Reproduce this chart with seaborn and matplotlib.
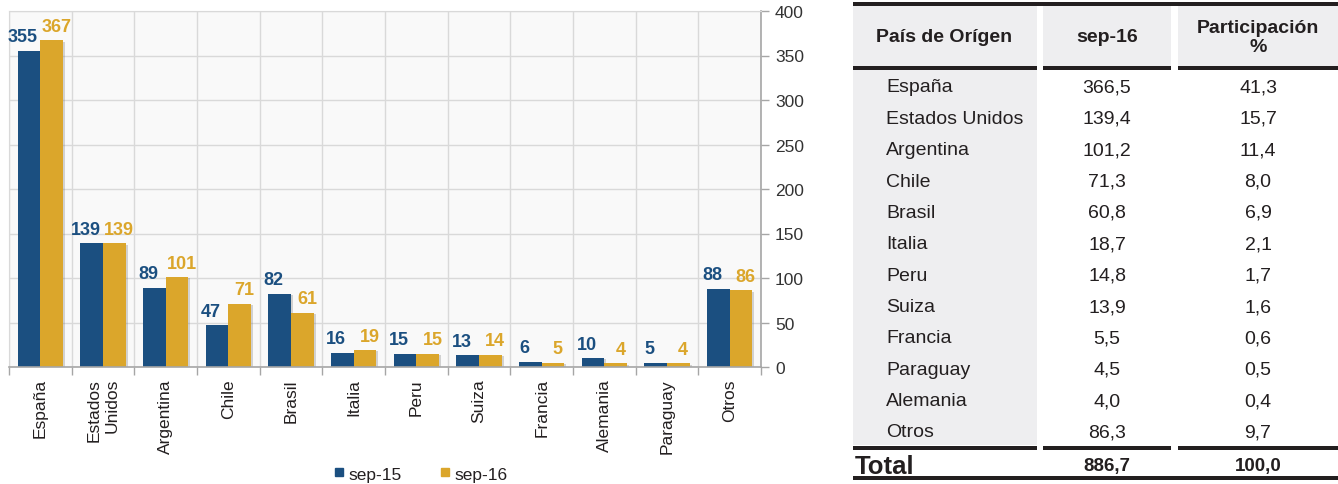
import numpy as np
import pandas as pd
import matplotlib
matplotlib.use("Agg")
import matplotlib.pyplot as plt
import matplotlib.patheffects as pe
from matplotlib.patches import Rectangle
from matplotlib.lines import Line2D
import seaborn as sns

# ---- chart data -------------------------------------------------------
countries = ["España", "Estados\nUnidos", "Argentina", "Chile", "Brasil", "Italia",
             "Peru", "Suiza", "Francia", "Alemania", "Paraguay", "Otros"]
periods = ["sep-15", "sep-16"]
sep15 = [355, 139, 89, 47, 82, 16, 15, 13, 6, 10, 5, 88]
sep16 = [367, 139, 101, 71, 61, 19, 15, 14, 5, 4, 4, 86]
y_ticks = [0, 50, 100, 150, 200, 250, 300, 350, 400]

# ---- table data -------------------------------------------------------
table_header = ["País de Orígen", "sep-16", "Participación\n%"]
table_countries = ["España", "Estados Unidos", "Argentina", "Chile", "Brasil", "Italia",
                   "Peru", "Suiza", "Francia", "Paraguay", "Alemania", "Otros"]
table_values = [366.5, 139.4, 101.2, 71.3, 60.8, 18.7, 14.8, 13.9, 5.5, 4.5, 4.0, 86.3]
table_share = [41.3, 15.7, 11.4, 8.0, 6.9, 2.1, 1.7, 1.6, 0.6, 0.5, 0.4, 9.7]
total_label = "Total"
total_value = 886.7
total_share = 100.0

BLUE = "#1b4f80"
GOLD = "#dba62b"
GRID = "#d9d9d9"
AXIS = "#a6a6a6"
TXT = "#231f20"

plt.rcParams["font.family"] = ["Liberation Sans", "DejaVu Sans"]

W, H = 1338, 485
fig = plt.figure(figsize=(W / 100, H / 100), dpi=100)

# ---- grouped bar chart ------------------------------------------------
ax = fig.add_axes([9 / W, (H - 368) / H, (761 - 9) / W, (368 - 12) / H])
df = pd.DataFrame({
    "País": countries * 2,
    "Periodo": [periods[0]] * len(countries) + [periods[1]] * len(countries),
    "Valor": sep15 + sep16,
})
sns.barplot(data=df, x="País", y="Valor", hue="Periodo", palette=[BLUE, GOLD],
            width=0.72, saturation=1, linewidth=0, legend=False, ax=ax)

for patch in ax.patches:
    patch.set_path_effects([pe.SimplePatchShadow(offset=(1.5, -1), shadow_rgbFace="#777777",
                                                 alpha=0.3), pe.Normal()])

# value labels: the pair is spread slightly apart so the two numbers never collide
label_shift_pt = [-4.5, 3.5]
for container, values, color, dx in zip(ax.containers, [sep15, sep16], [BLUE, GOLD],
                                        label_shift_pt):
    texts = ax.bar_label(container, labels=[str(v) for v in values], padding=4, color=color,
                         fontweight="bold", fontsize=13)
    for t in texts:
        t.xyann = (dx, t.xyann[1])

ax.set_xlim(-0.5, len(countries) - 0.5)
ax.set_ylim(0, 400)
ax.set_facecolor("#f9f9f9")
ax.yaxis.tick_right()
ax.set_yticks(y_ticks)
ax.set_xticks(np.arange(-0.5, len(countries), 1), minor=True)
ax.grid(which="minor", axis="x", color=GRID, lw=1)
ax.grid(which="major", axis="y", color=GRID, lw=1)
ax.grid(which="major", axis="x", visible=False)
ax.set_axisbelow(True)
ax.set_xlabel("")
ax.set_ylabel("")

ax.tick_params(axis="x", which="major", length=0, pad=8, labelsize=12.5,
               labelcolor=TXT, labelrotation=90)
ax.tick_params(axis="x", which="minor", length=6, color=AXIS, width=1)
ax.tick_params(axis="y", length=6, color=AXIS, width=1, labelsize=12.5,
               labelcolor="#333333", pad=4)
for lbl in ax.get_xticklabels():
    lbl.set_multialignment("right")
    lbl.set_verticalalignment("top")

for side in ("top", "left"):
    ax.spines[side].set_color(GRID)
for side in ("right", "bottom"):
    ax.spines[side].set_color(AXIS)
    ax.spines[side].set_linewidth(1.2)

handles = [Line2D([], [], marker="s", ls="none", color=c, markersize=6) for c in (BLUE, GOLD)]
fig.legend(handles, periods, loc="center", bbox_to_anchor=(421 / W, 1 - 475 / H), ncol=2,
           frameon=False, fontsize=12.5, handlelength=0.5, handletextpad=0.3,
           columnspacing=2.2, labelcolor=TXT)

# ---- summary table ----------------------------------------------------
tax = fig.add_axes([0, 0, 1, 1])
tax.set_xlim(0, W)
tax.set_ylim(H, 0)
tax.axis("off")

cols = [(853, 1037), (1043, 1171), (1178, 1338)]
col_centers = [None, 1107, 1258]
BG = "#eeeef0"
line_w = 4 * 0.72

for x0, x1 in cols:
    tax.add_patch(Rectangle((x0, 7), x1 - x0, 60, color=BG, lw=0))
    tax.plot([x0, x1], [69, 69], color=TXT, lw=line_w, solid_capstyle="butt")
    tax.plot([x0, x1], [448.5, 448.5], color=TXT, lw=line_w, solid_capstyle="butt")
tax.add_patch(Rectangle((cols[0][0], 71), cols[0][1] - cols[0][0], 375, color=BG, lw=0))
tax.plot([853, W], [5, 5], color=TXT, lw=line_w, solid_capstyle="butt")
tax.plot([853, W], [478.5, 478.5], color=TXT, lw=line_w, solid_capstyle="butt")

tax.text(944, 38, table_header[0], ha="center", va="center", fontsize=14,
         fontweight="bold", color=TXT)
tax.text(col_centers[1], 38, table_header[1], ha="center", va="center", fontsize=14,
         fontweight="bold", color=TXT)
tax.text(col_centers[2], 38, table_header[2], ha="center", va="center", fontsize=14,
         fontweight="bold", color=TXT, multialignment="center", linespacing=1.2)


def fmt(v):
    return f"{v:.1f}".replace(".", ",")


row_h = 31.36
for i, (name, val, share) in enumerate(zip(table_countries, table_values, table_share)):
    y = 88 + i * row_h
    tax.text(886, y, name, ha="left", va="center", fontsize=14, color=TXT)
    tax.text(col_centers[1], y, fmt(val), ha="center", va="center", fontsize=14, color=TXT)
    tax.text(col_centers[2], y, fmt(share), ha="center", va="center", fontsize=14, color=TXT)

tax.text(855, 467, total_label, ha="left", va="center", fontsize=18.5, fontweight="bold",
         color=TXT)
tax.text(col_centers[1], 467, fmt(total_value), ha="center", va="center", fontsize=13.5,
         fontweight="bold", color=TXT)
tax.text(col_centers[2], 467, fmt(total_share), ha="center", va="center", fontsize=13.5,
         fontweight="bold", color=TXT)

fig.savefig("out.png", dpi=100)
